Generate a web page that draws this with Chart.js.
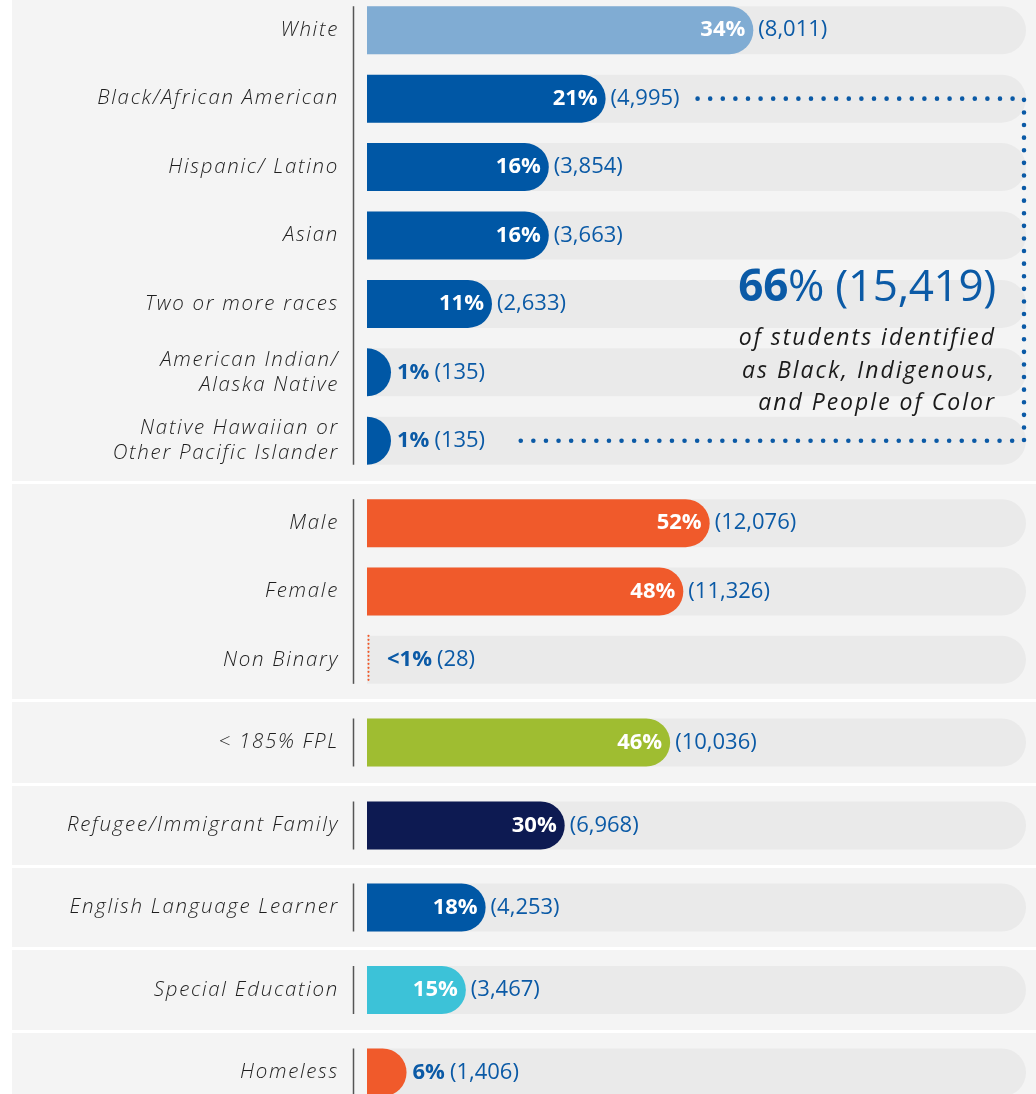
<!DOCTYPE html>
<html>
<head>
<meta charset="utf-8">
<script src="https://cdn.jsdelivr.net/npm/chart.js@4.4.1/dist/chart.umd.min.js"></script>
<style>
  html, body { margin: 0; padding: 0; background: #fff; }
  body { width: 1036px; height: 1094px; overflow: hidden; font-family: "Open Sans", sans-serif; }
  #wrap { position: relative; top: -5px; }
  .section { position: relative; margin-left: 12px; width: 1024px; background: #f4f4f4; margin-bottom: 3px; }
  .section canvas { display: block; }
  .note { position: absolute; right: 40px; text-align: right; white-space: nowrap; }
  .note-big { top: 267px; font-size: 44px; line-height: 44px; color: #0b5aa6; letter-spacing: -0.3px; }
  .note-big b { font-weight: 700; }
  .note-sub { top: 325px; font-size: 23px; line-height: 32.5px; font-style: italic; color: #1a1a1a; letter-spacing: 2px; }
</style>
</head>
<body>
<div id="wrap">
  <div class="section" style="height:486px">
    <canvas id="raceChart" width="1024" height="486"></canvas>
    <div class="note note-big" id="bipocBig"></div>
    <div class="note note-sub">of students identified<br>as Black, Indigenous,<br>and People of Color</div>
  </div>
  <div class="section" style="height:215px"><canvas id="genderChart" width="1024" height="215"></canvas></div>
  <div class="section" style="height:81px"><canvas id="fplChart" width="1024" height="81"></canvas></div>
  <div class="section" style="height:79px"><canvas id="refugeeChart" width="1024" height="79"></canvas></div>
  <div class="section" style="height:79px"><canvas id="ellChart" width="1024" height="79"></canvas></div>
  <div class="section" style="height:80px"><canvas id="spedChart" width="1024" height="80"></canvas></div>
  <div class="section" style="height:79px"><canvas id="homelessChart" width="1024" height="79"></canvas></div>
</div>
<script>
// DATA
const raceLabels = [
  "White",
  "Black/African American",
  "Hispanic/ Latino",
  "Asian",
  "Two or more races",
  ["American Indian/", "Alaska Native"],
  ["Native Hawaiian or", "Other Pacific Islander"],
];
const racePct = [34, 21, 16, 16, 11, 1, 1];
const raceCounts = [8011, 4995, 3854, 3663, 2633, 135, 135];

const genderLabels = ["Male", "Female", "Non Binary"];
const genderPct = [52, 48, 0.1];
const genderCounts = [12076, 11326, 28];

const fplLabels = ["< 185% FPL"];
const fplPct = [46];
const fplCounts = [10036];

const refugeeLabels = ["Refugee/Immigrant Family"];
const refugeePct = [30];
const refugeeCounts = [6968];

const ellLabels = ["English Language Learner"];
const ellPct = [18];
const ellCounts = [4253];

const spedLabels = ["Special Education"];
const spedPct = [15];
const spedCounts = [3467];

const homelessLabels = ["Homeless"];
const homelessPct = [6];
const homelessCounts = [1406];

const bipocPct = 66;
const bipocCount = 15419;

// STYLE
const BLUE = "#0057a5";
const TEXT_BLUE = "#0b5aa6";
const ORANGE = "#f05a2b";
const TRACK = "#eaeaea";
const raceColors = ["#80acd3", BLUE, BLUE, BLUE, BLUE, BLUE, BLUE];
const genderColors = [ORANGE, ORANGE, ORANGE];

const fmt = (n) => n.toLocaleString("en-US");
const pctText = (v) => (v < 1 ? "<1%" : v + "%");

function pill(ctx, left, right, top, h) {
  const r = h / 2;
  ctx.beginPath();
  ctx.moveTo(left, top);
  ctx.lineTo(right - r, top);
  ctx.arc(right - r, top + r, r, -Math.PI / 2, Math.PI / 2);
  ctx.lineTo(left, top + h);
  ctx.closePath();
  ctx.fill();
}

const pillBars = {
  id: "pillBars",
  beforeDraw(chart) {
    // wide tracking for the italic category labels
    chart.ctx.letterSpacing = "1.7px";
  },
  beforeDatasetDraw(chart, args) {
    const ctx = chart.ctx;
    const area = chart.chartArea;
    const ds = chart.data.datasets[args.index];
    ctx.save();
    args.meta.data.forEach((bar, i) => {
      const p = bar.getProps(["x", "y", "base", "height"], true);
      const top = p.y - p.height / 2;
      ctx.fillStyle = TRACK;
      pill(ctx, p.base, area.right, top, p.height);
      const w = p.x - p.base;
      if (w < 2) {
        // tiny value: dotted stub
        ctx.strokeStyle = ds.backgroundColor[i];
        ctx.lineWidth = 2.2;
        ctx.lineCap = "round";
        ctx.setLineDash([0, 4]);
        ctx.beginPath();
        ctx.moveTo(p.base + 1.5, top);
        ctx.lineTo(p.base + 1.5, top + p.height);
        ctx.stroke();
        ctx.setLineDash([]);
        bar.$end = p.base + 14;
      } else {
        ctx.fillStyle = ds.backgroundColor[i];
        const end = p.base + Math.max(w, p.height / 2);
        pill(ctx, p.base, end, top, p.height);
        bar.$end = end;
      }
    });
    ctx.restore();
    return false;
  },
  afterDatasetsDraw(chart) {
    const ctx = chart.ctx;
    const area = chart.chartArea;
    const ds = chart.data.datasets[0];
    const bars = chart.getDatasetMeta(0).data;
    ctx.save();
    ctx.letterSpacing = "0px";
    ctx.textBaseline = "middle";
    chart.$textEnds = [];
    bars.forEach((bar, i) => {
      const end = bar.$end;
      const txt = pctText(ds.data[i]);
      ctx.font = "bold 22px 'Open Sans'";
      const pw = ctx.measureText(txt).width;
      let cx;
      if (end - bar.base - pw >= 22) {
        ctx.fillStyle = "#ffffff";
        ctx.textAlign = "right";
        ctx.fillText(txt, end - 8, bar.y);
        cx = end + 5;
      } else {
        ctx.fillStyle = TEXT_BLUE;
        ctx.textAlign = "left";
        ctx.fillText(txt, end + 6, bar.y);
        cx = end + 6 + pw + 5;
      }
      ctx.font = "22px 'Open Sans'";
      ctx.fillStyle = TEXT_BLUE;
      ctx.textAlign = "left";
      const ct = "(" + fmt(ds.counts[i]) + ")";
      ctx.fillText(ct, cx, bar.y);
      chart.$textEnds.push(cx + ctx.measureText(ct).width);
    });
    // axis line spanning the bars
    const first = bars[0], last = bars[bars.length - 1];
    ctx.strokeStyle = "#555";
    ctx.lineWidth = 1.5;
    ctx.beginPath();
    ctx.moveTo(area.left - 13.5, first.y - first.height / 2);
    ctx.lineTo(area.left - 13.5, last.y + last.height / 2);
    ctx.stroke();
    ctx.restore();
  },
};

const bracket = {
  id: "bracket",
  afterDraw(chart) {
    const from = chart.options.plugins.bracket.from;
    const to = chart.options.plugins.bracket.to;
    if (from == null) return;
    const bars = chart.getDatasetMeta(0).data;
    const ctx = chart.ctx;
    const xr = chart.chartArea.right - 2;
    ctx.save();
    ctx.strokeStyle = TEXT_BLUE;
    ctx.lineWidth = 4.6;
    ctx.lineCap = "round";
    ctx.setLineDash([0, 12.6]);
    ctx.beginPath();
    ctx.moveTo(chart.$textEnds[from] + 18, bars[from].y);
    ctx.lineTo(xr, bars[from].y);
    ctx.lineTo(xr, bars[to].y);
    ctx.lineTo(chart.$textEnds[to] + 24, bars[to].y);
    ctx.stroke();
    ctx.restore();
  },
};

function makeChart(id, labels, pct, counts, colors, max, pad, note) {
  return new Chart(document.getElementById(id), {
    type: "bar",
    data: {
      labels,
      datasets: [{ data: pct, counts, backgroundColor: colors, barThickness: 48 }],
    },
    options: {
      indexAxis: "y",
      responsive: false,
      animation: false,
      events: [],
      layout: { padding: { top: pad[0], bottom: pad[1], right: 10, left: 0 } },
      plugins: {
        legend: { display: false },
        tooltip: { enabled: false },
        bracket: note || {},
      },
      scales: {
        x: { display: false, min: 0, max },
        y: {
          grid: { display: false, drawTicks: false },
          border: { display: false },
          ticks: {
            color: "#1e1e1e",
            padding: 28,
            font: { family: "'Open Sans'", size: 20.5, style: "italic", weight: 300, lineHeight: 1.22 },
          },
          afterFit: (s) => {
            s.width = 355;
            s.paddingTop = 0;
            s.paddingBottom = 0;
          },
        },
      },
    },
    plugins: [pillBars, bracket],
  });
}

document.addEventListener("DOMContentLoaded", () => {
  document.getElementById("bipocBig").innerHTML =
    "<b>" + bipocPct + "</b>% (" + fmt(bipocCount) + ")";
  makeChart("raceChart", raceLabels, racePct, raceCounts, raceColors, 58, [1, 6], { from: 1, to: 6 });
  makeChart("genderChart", genderLabels, genderPct, genderCounts, genderColors, 100, [5, 5]);
  makeChart("fplChart", fplLabels, fplPct, fplCounts, ["#9fbd31"], 100, [0, 0]);
  makeChart("refugeeChart", refugeeLabels, refugeePct, refugeeCounts, ["#0d1a52"], 100, [0, 0]);
  makeChart("ellChart", ellLabels, ellPct, ellCounts, [BLUE], 100, [0, 0]);
  makeChart("spedChart", spedLabels, spedPct, spedCounts, ["#3cc2d8"], 100, [0, 0]);
  makeChart("homelessChart", homelessLabels, homelessPct, homelessCounts, [ORANGE], 100, [0, 0]);
});
</script>
</body>
</html>
